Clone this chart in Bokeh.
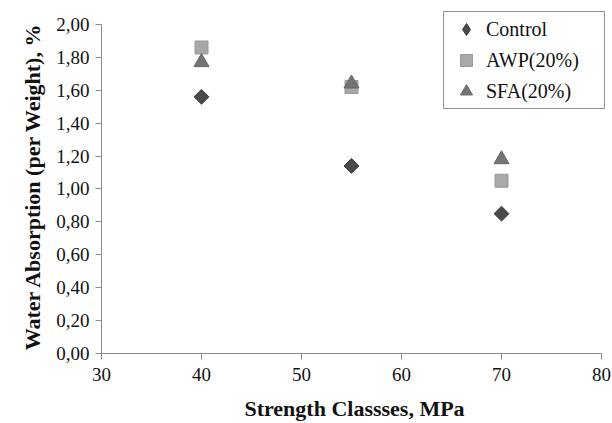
import math
from bokeh.plotting import figure
from bokeh.models import (Legend, LegendItem, CustomJSTickFormatter, Range1d, FixedTicker,
                          ColumnDataSource)
from bokeh.embed import file_html
from bokeh.resources import INLINE

strength = [40, 55, 70]
control = [1.56, 1.14, 0.85]
awp = [1.86, 1.62, 1.05]
sfa = [1.77, 1.64, 1.18]
x_ticks = [30, 40, 50, 60, 70, 80]
y_ticks = [0.0, 0.2, 0.4, 0.6, 0.8, 1.0, 1.2, 1.4, 1.6, 1.8, 2.0]

FONT = "Liberation Serif"
C_CONTROL, C_AWP, C_SFA = "#4a4a4a", "#a8a8a8", "#747474"

p = figure(width=612, height=423, output_backend="svg", toolbar_location=None,
           x_range=Range1d(30, 80.6), y_range=Range1d(0, 352 / 165),
           min_border_left=101, min_border_right=5, min_border_top=2, min_border_bottom=69)
p.outline_line_color = None
p.xgrid.visible = False
p.ygrid.visible = False

src_control = ColumnDataSource(data=dict(x=strength, y=control))
r1 = p.scatter("x", "y", source=src_control, marker="square", angle=math.pi / 4, size=10.5,
               fill_color=C_CONTROL, line_color="#3a3a3a")
r2 = p.scatter(strength, awp, marker="square", size=13, fill_color=C_AWP, line_color="#9a9a9a")
r3 = p.scatter(strength, sfa, marker="triangle", size=15, fill_color=C_SFA, line_color="#666666")
# legend-only swatch for the diamond (legend glyphs ignore marker angle); zero size in the plot
r1_leg = p.scatter("x", "y", source=src_control, marker="diamond", size=0,
                   fill_color=C_CONTROL, line_color="#3a3a3a")

for ax in (p.xaxis[0], p.yaxis[0]):
    ax.axis_line_color = "#8a8a8a"
    ax.major_tick_line_color = "#8a8a8a"
    ax.minor_tick_line_color = None
    ax.major_tick_in = 0
    ax.major_tick_out = 6
    ax.major_label_text_font = FONT
    ax.major_label_text_font_size = "19px"
    ax.major_label_text_color = "#111111"
    ax.axis_label_text_font = FONT
    ax.axis_label_text_font_style = "bold"
    ax.axis_label_text_font_size = "22px"
    ax.axis_label_text_color = "#111111"

p.xaxis.bounds = (30, 80)
p.yaxis.bounds = (0, 2.0)
p.xaxis.ticker = FixedTicker(ticks=x_ticks)
p.yaxis.ticker = FixedTicker(ticks=y_ticks)
p.yaxis.formatter = CustomJSTickFormatter(code="return tick.toFixed(2).replace('.', ',');")
p.xaxis.axis_label = "Strength Classses, MPa"
p.yaxis.axis_label = "Water Absorption (per Weight), %\u00a0\u00a0\u00a0"
p.xaxis.major_label_standoff = 8
p.yaxis.major_label_standoff = 6
p.xaxis.axis_label_standoff = 12
p.yaxis.axis_label_standoff = 8

legend = Legend(items=[LegendItem(label="Control", renderers=[r1_leg]),
                       LegendItem(label="AWP(20%)", renderers=[r2]),
                       LegendItem(label="SFA(20%)", renderers=[r3])],
                location=(342, 244))
legend.label_text_font = FONT
legend.label_text_font_size = "20px"
legend.label_text_color = "#111111"
legend.border_line_color = "#222222"
legend.border_line_width = 1
legend.glyph_width = 40
legend.glyph_height = 30
legend.label_standoff = 0
legend.spacing = 1
legend.padding = 2
legend.margin = 0
legend.label_height = 30
legend.label_width = 116
legend.background_fill_alpha = 1
p.add_layout(legend, "center")

open("out.html", "w").write(file_html(p, INLINE))
